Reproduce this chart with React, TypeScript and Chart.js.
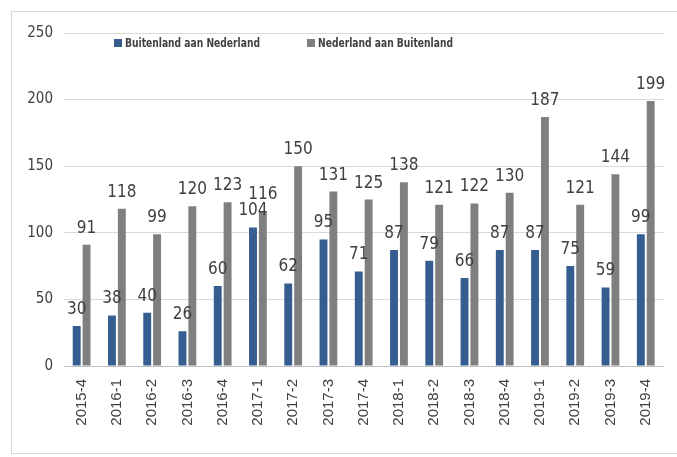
import React, { useEffect, useRef } from "react";
import { Chart, registerables } from "chart.js";

Chart.register(...registerables);

const categories = [
  "2015-4", "2016-1", "2016-2", "2016-3", "2016-4", "2017-1", "2017-2", "2017-3", "2017-4",
  "2018-1", "2018-2", "2018-3", "2018-4", "2019-1", "2019-2", "2019-3", "2019-4",
];
const buitenlandAanNederland = [30, 38, 40, 26, 60, 104, 62, 95, 71, 87, 79, 66, 87, 87, 75, 59, 99];
const nederlandAanBuitenland = [91, 118, 99, 120, 123, 116, 150, 131, 125, 138, 121, 122, 130, 187, 121, 144, 199];
const seriesNames = ["Buitenland aan Nederland", "Nederland aan Buitenland"];
const seriesColors = ["#355d90", "#7f7f7f"];
const yTicks = [0, 50, 100, 150, 200, 250];

const NARROW = '"Liberation Sans Narrow", "DejaVu Sans Condensed", sans-serif';

const valueLabels = {
  id: "valueLabels",
  afterDatasetsDraw(chart: any) {
    const ctx = chart.ctx;
    ctx.save();
    ctx.font = `17px ${NARROW}`;
    ctx.fillStyle = "#404040";
    ctx.textAlign = "center";
    ctx.textBaseline = "alphabetic";
    chart.data.datasets.forEach((ds: any, i: number) => {
      const meta = chart.getDatasetMeta(i);
      meta.data.forEach((el: any, j: number) => {
        ctx.fillText(String(ds.data[j]), el.x, el.y - 12);
      });
    });
    ctx.restore();
  },
};

const insideLegend = {
  id: "insideLegend",
  afterDraw(chart: any) {
    const ctx = chart.ctx;
    const a = chart.chartArea;
    ctx.save();
    ctx.font = `bold 12.5px ${NARROW}`;
    ctx.textBaseline = "middle";
    ctx.textAlign = "left";
    const starts = [a.left + 50, a.left + 243];
    chart.data.datasets.forEach((ds: any, i: number) => {
      const x = starts[i];
      const y = a.top + 6;
      ctx.fillStyle = ds.backgroundColor;
      ctx.fillRect(x, y, 8, 8);
      ctx.fillStyle = "#404040";
      const w = ctx.measureText(ds.label).width;
      const sx = Math.min(1, 135 / w);
      ctx.save();
      ctx.translate(x + 11, y + 4.5);
      ctx.scale(sx, 1);
      ctx.fillText(ds.label, 0, 0);
      ctx.restore();
    });
    ctx.restore();
  },
};

export default function App() {
  const ref = useRef<HTMLCanvasElement>(null);
  useEffect(() => {
    const chart = new Chart(ref.current!, {
      type: "bar",
      data: {
        labels: categories,
        datasets: [
          {
            label: seriesNames[0],
            data: buitenlandAanNederland,
            backgroundColor: seriesColors[0],
            categoryPercentage: 0.56,
            barPercentage: 0.8,
          },
          {
            label: seriesNames[1],
            data: nederlandAanBuitenland,
            backgroundColor: seriesColors[1],
            categoryPercentage: 0.56,
            barPercentage: 0.8,
          },
        ],
      },
      options: {
        animation: false,
        responsive: false,
        devicePixelRatio: 1,
        layout: { padding: { left: 0, top: 33, right: 8, bottom: 0 } },
        plugins: { legend: { display: false }, tooltip: { enabled: false } },
        scales: {
          y: {
            min: 0,
            max: 250,
            afterBuildTicks: (s: any) => {
              s.ticks = yTicks.map((v) => ({ value: v }));
            },
            afterFit: (s: any) => {
              s.width = 64;
            },
            ticks: {
              font: { family: NARROW, size: 15 },
              color: "#404040",
              padding: 11,
            },
            grid: { color: "#d9d9d9", drawTicks: false, lineWidth: 1 },
            border: { display: false },
          },
          x: {
            afterFit: (s: any) => {
              s.height = 91;
            },
            ticks: {
              minRotation: 90,
              maxRotation: 90,
              autoSkip: false,
              font: { family: '"Liberation Sans", Arial, sans-serif', size: 15 },
              color: "#404040",
              padding: 13,
            },
            grid: { display: false, drawTicks: false },
            border: { display: true, color: "#bfbfbf", width: 1 },
          },
        },
      },
      plugins: [valueLabels, insideLegend],
    });
    return () => chart.destroy();
  }, []);

  return (
    <div style={{ position: "absolute", left: 0, top: 0, width: 677, height: 457, background: "#fff" }}>
      <div
        style={{
          position: "absolute",
          left: 11,
          top: 11,
          width: 680,
          height: 443,
          border: "1px solid #d9d9d9",
          borderRight: "none",
          boxSizing: "border-box",
        }}
      />
      <canvas ref={ref} width={677} height={457} style={{ position: "absolute", left: 0, top: 0 }} />
    </div>
  );
}
